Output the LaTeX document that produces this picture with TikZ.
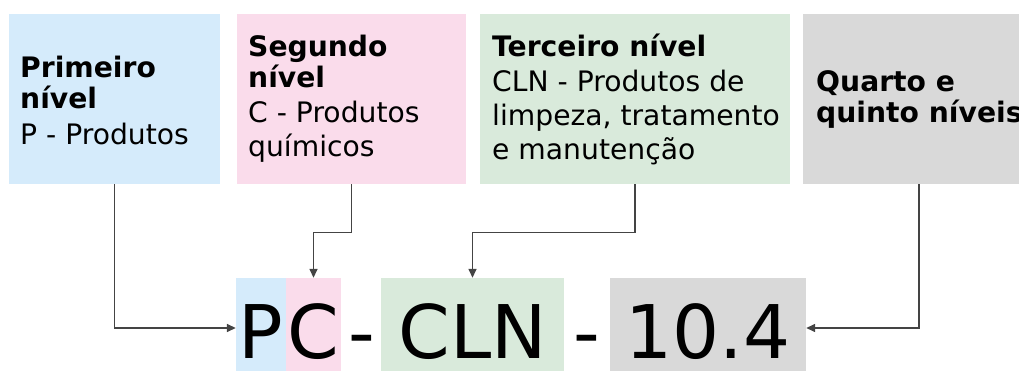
\documentclass[tikz,border=0pt]{standalone}
\usepackage{fontspec}
\setmainfont{DejaVu Sans}
\usetikzlibrary{arrows.meta, positioning}
\definecolor{lvlblue}{HTML}{D5EBFB}
\definecolor{lvlpink}{HTML}{FADCEB}
\definecolor{lvlgreen}{HTML}{D9EADB}
\definecolor{lvlgray}{HTML}{D9D9D9}
\definecolor{linkgray}{HTML}{444444}

\begin{document}
\begin{tikzpicture}[x=1pt, y=-1pt,
    lvlbox/.style={anchor=north west, minimum height=170pt, inner sep=0pt},
    lvltext/.style={anchor=west, align=left, inner sep=0pt, font=\fontsize{28.2}{34}\selectfont},
    codebox/.style={anchor=base, inner sep=0pt, text height=80pt, text depth=13pt, font=\fontsize{74}{74}\selectfont},
    link/.style={draw=linkgray, line width=1.5pt, -{Triangle[length=9pt,width=8pt]}}
  ]
    \useasboundingbox (0,0) rectangle (1019,371);
    % level boxes
    \node[lvlbox, fill=lvlblue, minimum width=211pt] (lvl1) at (9,14) {};
    \node[lvlbox, fill=lvlpink, minimum width=229pt] (lvl2) at (237,14) {};
    \node[lvlbox, fill=lvlgreen, minimum width=310pt] (lvl3) at (480,14) {};
    \node[lvlbox, fill=lvlgray, minimum width=232pt] (lvl4) at (803,14) {};
    \node[lvltext] (txt1) at ([xshift=11pt, yshift=-1pt]lvl1.west) {\textbf{Primeiro}\\[-3pt]\textbf{nível}\\[2pt]P - Produtos};
    \node[lvltext] (txt2) at ([xshift=11pt]lvl2.west) {\textbf{Segundo}\\[-3pt]\textbf{nível}\\[1pt]C - Produtos\\químicos};
    \node[lvltext] (txt3) at ([xshift=12pt]lvl3.west) {\textbf{Terceiro nível}\\[1pt]CLN - Produtos de\\limpeza, tratamento\\e manutenção};
    \node[lvltext] (txt4) at ([xshift=13pt]lvl4.west) {\textbf{Quarto e}\\[-3pt]\textbf{quinto níveis}};
    % code
    \node[codebox, fill=lvlblue, minimum width=50pt] (codeP) at (261,358) {P};
    \node[codebox, fill=lvlpink, minimum width=55pt] (codeC) at (313.5,358) {C};
    \node[codebox] (dash1) at (362,358) {-};
    \node[codebox, fill=lvlgreen, minimum width=183pt] (codeCLN) at (472.5,358) {CLN};
    \node[codebox] (dash2) at (587,358) {-};
    \node[codebox, fill=lvlgray, minimum width=196pt] (codeNum) at (708,358) {10.4};
    % links
    \draw[link] (lvl1.south) |- ([yshift=30pt]codeP.base west);
    \draw[link] (lvl2.south) -- ++(0,48) -| (codeC.north);
    \draw[link] (lvl3.south) -- ++(0,48) -| (codeCLN.north);
    \draw[link] (lvl4.south) |- ([yshift=30pt]codeNum.base east);
\end{tikzpicture}
\end{document}
